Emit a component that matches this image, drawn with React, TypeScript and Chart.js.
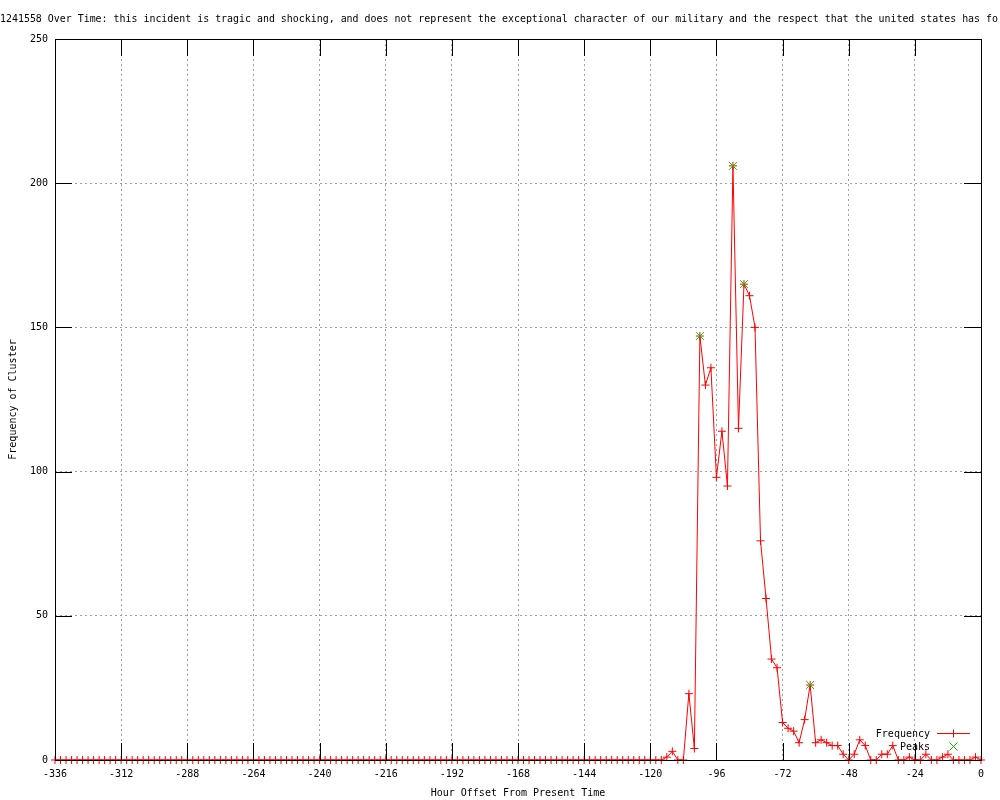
import React, { useEffect, useRef } from "react";
import { Chart, registerables } from "chart.js";

Chart.register(...registerables);

const TITLE =
  "1241558 Over Time: this incident is tragic and shocking, and does not represent the exceptional character of our military and the respect that the united states has fo";
const X_LABEL = "Hour Offset From Present Time";
const Y_LABEL = "Frequency of Cluster";
const SERIES_LABEL = "Frequency";
const PEAKS_LABEL = "Peaks";

const X_MIN = -336;
const X_MAX = 0;
const X_STEP = 24;
const Y_MIN = 0;
const Y_MAX = 250;
const Y_STEP = 50;
const BIN_HOURS = 2;

// one value per 2-hour bin, from -336 h up to 0 h
const FREQUENCY = [
  0, 0, 0, 0, 0, 0, 0, 0, 0, 0,
  0, 0, 0, 0, 0, 0, 0, 0, 0, 0,
  0, 0, 0, 0, 0, 0, 0, 0, 0, 0,
  0, 0, 0, 0, 0, 0, 0, 0, 0, 0,
  0, 0, 0, 0, 0, 0, 0, 0, 0, 0,
  0, 0, 0, 0, 0, 0, 0, 0, 0, 0,
  0, 0, 0, 0, 0, 0, 0, 0, 0, 0,
  0, 0, 0, 0, 0, 0, 0, 0, 0, 0,
  0, 0, 0, 0, 0, 0, 0, 0, 0, 0,
  0, 0, 0, 0, 0, 0, 0, 0, 0, 0,
  0, 0, 0, 0, 0, 0, 0, 0, 0, 0,
  // -116 .. 0
  0, 1, 3, 0, 0, 23, 4, 147, 130, 136,
  98, 114, 95, 206, 115, 165, 161, 150, 76, 56,
  35, 32, 13, 11, 10, 6, 14, 26, 6, 7,
  6, 5, 5, 2, 0, 2, 7, 5, 0, 0,
  2, 2, 5, 0, 0, 1, 0, 0, 2, 0,
  0, 1, 2, 0, 0, 0, 0, 1, 0,
];

const HOURS = FREQUENCY.map((_, i) => X_MIN + i * BIN_HOURS);

const PEAK_HOURS = [-102, -90, -86, -62];
const PEAK_VALUES = [147, 206, 165, 26];

const FONT_FAMILY = '"DejaVu Sans Mono", "Liberation Mono", monospace';
const FONT_SIZE = 10;
const FONT = `${FONT_SIZE}px ${FONT_FAMILY}`;
const RED = "#ff0000";
const GREEN = "#00c000";
const GRID = "#a0a0a0";
const TIC = 17;

const gnuplotDecor = {
  id: "gnuplotDecor",
  afterDatasetsDraw(chart: any) {
    const { ctx, chartArea, scales } = chart;
    const { left, top, right, bottom } = chartArea;
    const xs = scales.x;
    const ys = scales.y;
    ctx.save();
    ctx.strokeStyle = "#000";
    ctx.lineWidth = 1;
    ctx.beginPath();
    for (const t of xs.ticks) {
      const px = Math.round(xs.getPixelForValue(t.value)) + 0.5;
      ctx.moveTo(px, bottom);
      ctx.lineTo(px, bottom - TIC);
      ctx.moveTo(px, top);
      ctx.lineTo(px, top + TIC);
    }
    for (const t of ys.ticks) {
      const py = Math.round(ys.getPixelForValue(t.value)) + 0.5;
      ctx.moveTo(left, py);
      ctx.lineTo(left + TIC, py);
      ctx.moveTo(right, py);
      ctx.lineTo(right - TIC, py);
    }
    ctx.stroke();
    ctx.strokeRect(left + 0.5, top + 0.5, right - left, bottom - top);
    ctx.restore();
  },
  afterDraw(chart: any) {
    const { ctx, chartArea } = chart;
    const { right, bottom } = chartArea;
    ctx.save();
    // title
    ctx.font = FONT;
    ctx.fillStyle = "#000";
    ctx.textAlign = "left";
    ctx.textBaseline = "alphabetic";
    ctx.fillText(TITLE, 0, 22, 998);

    // legend (gnuplot style: text right-aligned, sample to the right)
    const ds = chart.data.datasets;
    const textRight = right - 51;
    const sx0 = right - 44;
    const sx1 = right - 11;
    const sxc = right - 27.5;
    const y1 = bottom - 26.5;
    const y2 = bottom - 13.5;
    ctx.textAlign = "right";
    ctx.textBaseline = "middle";
    ctx.fillText(ds[0].label, textRight, y1 + 0.5);
    ctx.fillText(ds[1].label, textRight, y2 + 0.5);

    ctx.lineWidth = 1;
    ctx.strokeStyle = RED;
    ctx.beginPath();
    ctx.moveTo(sx0, y1);
    ctx.lineTo(sx1, y1);
    ctx.moveTo(sxc, y1 - 4);
    ctx.lineTo(sxc, y1 + 4);
    ctx.stroke();

    ctx.strokeStyle = GREEN;
    ctx.beginPath();
    ctx.moveTo(sxc - 4, y2 - 4);
    ctx.lineTo(sxc + 4, y2 + 4);
    ctx.moveTo(sxc - 4, y2 + 4);
    ctx.lineTo(sxc + 4, y2 - 4);
    ctx.stroke();
    ctx.restore();
  },
};

export default function App() {
  const ref = useRef<HTMLCanvasElement>(null);

  useEffect(() => {
    document.body.style.margin = "0";
    const canvas = ref.current;
    if (!canvas) return;

    const font = { family: FONT_FAMILY, size: FONT_SIZE };

    const chart = new Chart(canvas, {
      type: "line",
      data: {
        datasets: [
          {
            label: SERIES_LABEL,
            data: HOURS.map((h, i) => ({ x: h, y: FREQUENCY[i] })),
            borderColor: RED,
            backgroundColor: RED,
            borderWidth: 1,
            pointStyle: "cross",
            pointRadius: 4,
            pointBorderColor: RED,
            pointBorderWidth: 1,
            tension: 0,
            fill: false,
            clip: false as any,
            order: 1,
          },
          {
            label: PEAKS_LABEL,
            data: PEAK_HOURS.map((h, i) => ({ x: h, y: PEAK_VALUES[i] })),
            showLine: false,
            borderColor: GREEN,
            backgroundColor: GREEN,
            pointStyle: "crossRot",
            pointRadius: 5.5,
            pointBorderColor: GREEN,
            pointBorderWidth: 1,
            clip: false as any,
            order: 0,
          },
        ],
      },
      options: {
        responsive: false,
        animation: false,
        devicePixelRatio: 1,
        events: [],
        layout: { padding: { top: 39, right: 19, left: 0, bottom: 0 } },
        plugins: {
          legend: { display: false },
          title: { display: false },
          tooltip: { enabled: false },
        },
        scales: {
          x: {
            type: "linear",
            position: "bottom",
            min: X_MIN,
            max: X_MAX,
            ticks: {
              stepSize: X_STEP,
              color: "#000",
              font,
              padding: 8,
              autoSkip: false,
              maxRotation: 0,
              callback: (v: any) => String(v),
            },
            grid: { color: GRID, lineWidth: 1, drawTicks: false },
            border: { display: false, dash: [2, 3] },
            title: {
              display: true,
              text: X_LABEL,
              color: "#000",
              font,
              padding: { top: 0, bottom: 1 },
            },
            afterFit: (s: any) => {
              s.height = 40;
            },
          },
          y: {
            type: "linear",
            min: Y_MIN,
            max: Y_MAX,
            ticks: {
              stepSize: Y_STEP,
              color: "#000",
              font,
              padding: 7,
              callback: (v: any) => String(v),
            },
            grid: { color: GRID, lineWidth: 1, drawTicks: false },
            border: { display: false, dash: [2, 3] },
            title: {
              display: true,
              text: Y_LABEL,
              color: "#000",
              font,
              padding: { top: 7, bottom: 0 },
            },
            afterFit: (s: any) => {
              s.width = 55;
            },
          },
        },
      },
      plugins: [gnuplotDecor],
    } as any);

    return () => chart.destroy();
  }, []);

  return (
    <div style={{ width: 1000, height: 800, background: "#fff" }}>
      <canvas
        ref={ref}
        width={1000}
        height={800}
        style={{ display: "block", width: 1000, height: 800 }}
      />
    </div>
  );
}
